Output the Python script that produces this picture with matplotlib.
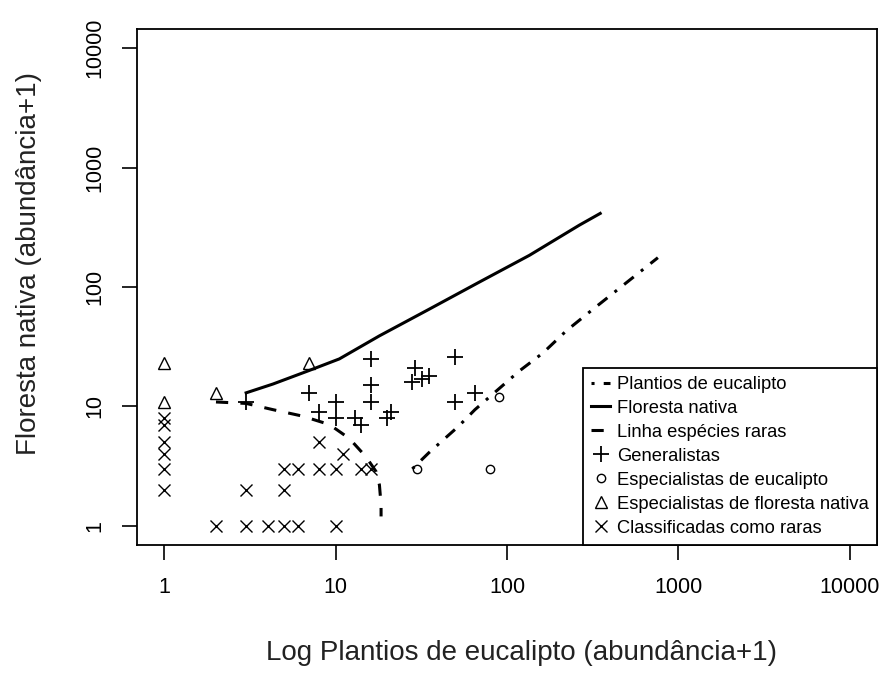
import matplotlib
matplotlib.use('Agg')
import matplotlib.pyplot as plt
from matplotlib.ticker import FixedLocator, NullLocator

plt.rcParams['font.family'] = ['Liberation Sans', 'DejaVu Sans']

# generalistas (+)
gen_x = [3, 7, 10, 16, 16, 16, 8, 10, 13, 14, 20, 21, 28, 29, 32, 35, 50, 50, 65]
gen_y = [11, 13, 11, 25, 15, 11, 9, 8, 8, 7, 8, 9, 16, 21, 17, 18, 26, 11, 13]
# especialistas de eucalipto (o)
euc_x = [30, 80, 90]
euc_y = [3, 3, 12]
# especialistas de floresta nativa (triangulo)
nat_x = [1, 1, 2, 7]
nat_y = [23, 11, 13, 23]
# classificadas como raras (x)
rar_x = [1, 1, 1, 1, 1, 1, 2, 3, 4, 5, 6, 10, 3, 5, 5, 6, 8, 10, 14, 16, 8, 11]
rar_y = [2, 3, 4, 5, 7, 8, 1, 1, 1, 1, 1, 1, 2, 2, 3, 3, 3, 3, 3, 3, 5, 4]

# linhas
flo_x = [3, 4.3, 7, 10.5, 18, 35, 69, 135, 265, 350]
flo_y = [13, 15.4, 20, 25, 39, 65, 110, 184, 330, 413]
euc_lx = [28, 35, 52, 65, 118, 162, 222, 317, 760]
euc_ly = [3, 4.1, 6.8, 9.4, 19.8, 28, 43, 65, 176]
rar_lx = [2, 3, 4.3, 6.4, 9.2, 12, 15, 17.2, 18, 18.4, 18.4]
rar_ly = [10.9, 10.6, 9.4, 8.3, 7.05, 5.4, 3.8, 2.85, 2.2, 1.5, 1.2]

ticks = [1, 10, 100, 1000, 10000]
tick_labels = ['1', '10', '100', '1000', '10000']

fig = plt.figure(figsize=(8.88, 6.75), dpi=100)
ax = fig.add_axes([137/888, 130/675, 740/888, 516/675])

ax.plot(euc_lx, euc_ly, color='black', lw=2.2, linestyle=(0, (1, 3, 4, 3)),
        label='Plantios de eucalipto')
ax.plot(flo_x, flo_y, color='black', lw=2.2, linestyle='-', label='Floresta nativa')
ax.plot(rar_lx, rar_ly, color='black', lw=2.2, linestyle=(0, (4, 4)),
        label='Linha espécies raras')
ax.plot(gen_x, gen_y, '+', color='black', ms=12, mew=1.3, label='Generalistas')
ax.plot(euc_x, euc_y, 'o', color='black', mfc='none', ms=6, mew=1.0,
        label='Especialistas de eucalipto')
ax.plot(nat_x, nat_y, '^', color='black', mfc='none', ms=8, mew=1.0,
        label='Especialistas de floresta nativa')
ax.plot(rar_x, rar_y, 'x', color='black', ms=8, mew=1.0, label='Classificadas como raras')

ax.set_xscale('log')
ax.set_yscale('log')
ax.set_xlim(10 ** -0.16, 10 ** 4.16)
ax.set_ylim(10 ** -0.16, 10 ** 4.16)
ax.xaxis.set_major_locator(FixedLocator(ticks))
ax.yaxis.set_major_locator(FixedLocator(ticks))
ax.xaxis.set_minor_locator(NullLocator())
ax.yaxis.set_minor_locator(NullLocator())
ax.set_xticklabels(tick_labels)
ax.set_yticklabels(tick_labels, rotation=90, va='center')
ax.tick_params(length=11, width=1.2, labelsize=15.5, pad=12, color='black')

for s in ax.spines.values():
    s.set_linewidth(1.3)

ax.set_xlabel('Log Plantios de eucalipto (abundância+1)', fontsize=20, color='#222222')
ax.set_ylabel('Floresta nativa (abundância+1)', fontsize=20, color='#222222')
ax.xaxis.set_label_coords(0.52, -0.185)
ax.yaxis.set_label_coords(-0.128, 0.545)

leg = ax.legend(loc='lower right', bbox_to_anchor=(1, 0), borderaxespad=0,
                fontsize=13.2, handlelength=1.0, handletextpad=0.4,
                labelspacing=0.38, borderpad=0.45, fancybox=False,
                edgecolor='black', framealpha=1)
leg.get_frame().set_linewidth(1.3)

fig.savefig('out.png', dpi=100)
